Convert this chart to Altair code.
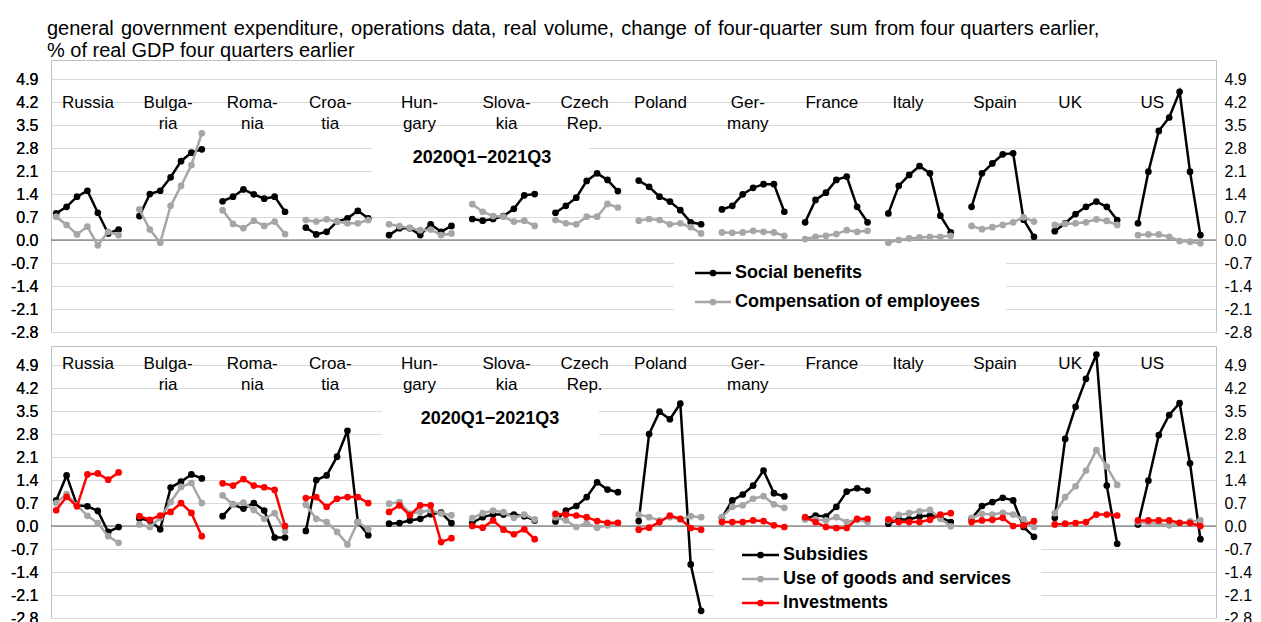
import altair as alt
import pandas as pd

# ---------------- data ----------------
COUNTRIES = ["Russia", "Bulgaria", "Romania", "Croatia", "Hungary", "Slovakia", "Czech Rep.",
             "Poland", "Germany", "France", "Italy", "Spain", "UK", "US"]
COUNTRY_LABELS = ["Russia", "Bulga-\nria", "Roma-\nnia", "Croa-\ntia", "Hun-\ngary", "Slova-\nkia",
                  "Czech\nRep.", "Poland", "Ger-\nmany", "France", "Italy", "Spain", "UK", "US"]
QUARTERS = ["2020Q1", "2020Q2", "2020Q3", "2020Q4", "2021Q1", "2021Q2", "2021Q3"]
Y_TICKS = [-2.8, -2.1, -1.4, -0.7, 0.0, 0.7, 1.4, 2.1, 2.8, 3.5, 4.2, 4.9]
PERIOD_LABEL = "2020Q1\u22122021Q3"
TITLE = ["general government expenditure, operations data, real volume, change of four-quarter sum from four quarters earlier,",
         "% of real GDP four quarters earlier"]

# top panel
SOCIAL_BENEFITS = [
    [0.81, 1.01, 1.32, 1.50, 0.83, 0.20, 0.32],
    [0.73, 1.40, 1.50, 1.91, 2.40, 2.66, 2.76],
    [1.18, 1.32, 1.54, 1.39, 1.26, 1.32, 0.86],
    [0.38, 0.17, 0.25, 0.56, 0.66, 0.89, 0.66],
    [0.15, 0.36, 0.36, 0.15, 0.48, 0.25, 0.43],
    [0.64, 0.59, 0.64, 0.73, 0.95, 1.36, 1.40],
    [0.83, 1.04, 1.29, 1.80, 2.03, 1.83, 1.49],
    [1.81, 1.62, 1.32, 1.17, 0.91, 0.54, 0.48],
    [0.93, 1.04, 1.39, 1.59, 1.70, 1.70, 0.86],
    [0.54, 1.22, 1.44, 1.83, 1.93, 1.01, 0.54],
    [0.81, 1.65, 1.98, 2.25, 2.03, 0.74, 0.23],
    [1.01, 2.03, 2.33, 2.61, 2.64, 0.62, 0.10],
    [0.27, 0.51, 0.79, 1.01, 1.17, 1.01, 0.61],
    [0.51, 2.08, 3.32, 3.73, 4.51, 2.08, 0.15],
]
COMPENSATION = [
    [0.71, 0.46, 0.17, 0.41, -0.16, 0.25, 0.15],
    [0.93, 0.32, -0.08, 1.04, 1.65, 2.28, 3.25],
    [0.91, 0.49, 0.36, 0.59, 0.43, 0.56, 0.18],
    [0.61, 0.56, 0.63, 0.56, 0.51, 0.51, 0.61],
    [0.48, 0.42, 0.37, 0.30, 0.32, 0.15, 0.20],
    [1.09, 0.86, 0.73, 0.71, 0.56, 0.59, 0.43],
    [0.61, 0.51, 0.48, 0.71, 0.71, 1.10, 0.99],
    [0.59, 0.64, 0.61, 0.48, 0.51, 0.39, 0.20],
    [0.23, 0.22, 0.23, 0.28, 0.25, 0.23, 0.13],
    [0.03, 0.10, 0.13, 0.18, 0.30, 0.25, 0.28],
    [-0.08, 0.00, 0.05, 0.08, 0.10, 0.10, 0.13],
    [0.43, 0.33, 0.39, 0.46, 0.54, 0.69, 0.56],
    [0.46, 0.49, 0.51, 0.54, 0.63, 0.58, 0.46],
    [0.15, 0.17, 0.17, 0.10, -0.03, -0.05, -0.10],
]
# bottom panel
SUBSIDIES = [
    [0.78, 1.54, 0.63, 0.60, 0.46, -0.18, -0.03],
    [0.23, 0.17, -0.10, 1.17, 1.35, 1.57, 1.45],
    [0.30, 0.65, 0.53, 0.70, 0.47, -0.35, -0.35],
    [-0.15, 1.40, 1.54, 2.11, 2.90, 0.12, -0.28],
    [0.07, 0.09, 0.17, 0.22, 0.36, 0.41, 0.09],
    [0.10, 0.27, 0.35, 0.35, 0.35, 0.30, 0.17],
    [0.14, 0.47, 0.61, 0.88, 1.33, 1.11, 1.03],
    [0.15, 2.80, 3.48, 3.25, 3.73, -1.17, -2.58],
    [0.25, 0.78, 0.96, 1.23, 1.69, 1.00, 0.90],
    [0.22, 0.32, 0.29, 0.58, 1.05, 1.15, 1.08],
    [0.07, 0.20, 0.20, 0.29, 0.32, 0.27, 0.12],
    [0.22, 0.61, 0.73, 0.86, 0.78, -0.03, -0.33],
    [0.25, 2.65, 3.63, 4.48, 5.22, 1.23, -0.54],
    [0.05, 1.38, 2.77, 3.38, 3.74, 1.91, -0.40],
]
USE_OF_GOODS = [
    [0.70, 0.97, 0.63, 0.31, 0.09, -0.31, -0.51],
    [0.05, -0.03, 0.25, 0.73, 1.19, 1.31, 0.70],
    [0.93, 0.65, 0.71, 0.49, 0.22, 0.39, -0.15],
    [0.65, 0.22, 0.12, -0.18, -0.56, 0.12, -0.10],
    [0.68, 0.73, 0.38, 0.43, 0.48, 0.38, 0.33],
    [0.24, 0.39, 0.47, 0.42, 0.25, 0.35, 0.20],
    [0.27, 0.17, -0.03, 0.09, -0.05, 0.02, 0.09],
    [0.35, 0.27, 0.17, 0.27, 0.20, 0.30, 0.27],
    [0.27, 0.58, 0.63, 0.83, 0.91, 0.66, 0.55],
    [0.20, 0.20, 0.17, 0.27, 0.12, 0.19, 0.12],
    [0.17, 0.34, 0.39, 0.45, 0.49, 0.22, -0.01],
    [0.25, 0.37, 0.35, 0.40, 0.35, 0.20, -0.03],
    [0.39, 0.88, 1.21, 1.69, 2.31, 1.81, 1.25],
    [0.12, 0.09, 0.07, 0.02, 0.09, 0.14, 0.17],
]
INVESTMENTS = [
    [0.48, 0.89, 0.60, 1.57, 1.60, 1.41, 1.63],
    [0.30, 0.19, 0.32, 0.43, 0.70, 0.40, -0.31],
    [1.30, 1.23, 1.43, 1.23, 1.18, 1.10, 0.00],
    [0.85, 0.88, 0.58, 0.83, 0.88, 0.88, 0.70],
    [0.43, 0.63, 0.33, 0.63, 0.63, -0.49, -0.37],
    [0.00, -0.05, 0.17, -0.11, -0.25, -0.10, -0.40],
    [0.37, 0.35, 0.32, 0.27, 0.15, 0.10, 0.10],
    [-0.11, -0.05, 0.12, 0.32, 0.22, -0.06, -0.11],
    [0.12, 0.12, 0.12, 0.17, 0.15, 0.02, -0.03],
    [0.27, 0.12, -0.03, -0.06, -0.06, 0.22, 0.22],
    [0.20, 0.12, 0.12, 0.12, 0.19, 0.35, 0.39],
    [0.12, 0.17, 0.19, 0.25, 0.00, 0.02, 0.15],
    [0.05, 0.07, 0.09, 0.12, 0.35, 0.35, 0.32],
    [0.17, 0.17, 0.17, 0.17, 0.10, 0.09, 0.00],
]

TOP_SERIES = [("Social benefits", SOCIAL_BENEFITS, "#000000"),
              ("Compensation of employees", COMPENSATION, "#A6A6A6")]
BOTTOM_SERIES = [("Subsidies", SUBSIDIES, "#000000"),
                 ("Use of goods and services", USE_OF_GOODS, "#A6A6A6"),
                 ("Investments", INVESTMENTS, "#FF0000")]

# ---------------- layout / style ----------------
FONT = "Liberation Sans"
W, H = 1165, 272
SLOT = 8  # category slots per country (7 quarters + 1 gap)
X_DOMAIN = [-0.5, len(COUNTRIES) * SLOT - 0.5]
Y_DOMAIN = [-2.8, 5.48]
LABEL_CENTER = [3.06, 2.76, 2.85, 2.35, 2.92, 3.29, 2.8, 2.1, 2.49, 2.57, 1.89, 2.26, 1.48, 1.37]

xscale = alt.Scale(domain=X_DOMAIN, nice=False, zero=False)
yscale = alt.Scale(domain=Y_DOMAIN, nice=False, zero=False)


def axis(orient, grid, pad):
    return alt.Axis(orient=orient, values=Y_TICKS, format=".1f", grid=grid, gridColor="#D9D9D9",
                    gridWidth=1, domain=False, ticks=False, labelFont=FONT, labelFontSize=16,
                    labelColor="#000000", labelPadding=pad, title=None,
                    labelExpr="replace(datum.label, '\u2212', '-')")


def long_df(series):
    rows = []
    for name, vals, _ in series:
        for ci, c in enumerate(COUNTRIES):
            for qi, q in enumerate(QUARTERS):
                rows.append({"series": name, "country": c, "quarter": q,
                             "x": ci * SLOT + qi, "value": vals[ci][qi]})
    return pd.DataFrame(rows)


def panel(series, label_top, line_h, period_box, period_xy, legend_box, legend_x, legend_rows):
    df = long_df(series)
    one = pd.DataFrame({"d": [0]})
    layers = []
    # white boxes behind annotation text
    for (x1, x2, y1, y2) in (period_box, legend_box):
        layers.append(alt.Chart(one).mark_rect(color="white").encode(
            x=alt.value(x1), x2=alt.value(x2), y=alt.value(y1), y2=alt.value(y2)))
    # zero line + right axis
    layers.append(alt.Chart(pd.DataFrame({"v": [0.0]})).mark_rule(color="#595959", strokeWidth=1).encode(
        y=alt.Y("v:Q", scale=yscale, axis=axis("right", False, 8))))
    # series
    for i, (name, _, color) in enumerate(series):
        sub = df[df.series == name]
        base = alt.Chart(sub).encode(
            x=alt.X("x:Q", scale=xscale, axis=None),
            y=alt.Y("value:Q", scale=yscale, axis=axis("left", True, 13) if i == 0 else None),
            detail="country:N")
        layers.append(base.mark_line(color=color, strokeWidth=2.5))
        layers.append(base.mark_circle(color=color, size=45, opacity=1))
    # country labels
    lab = pd.DataFrame({"label": COUNTRY_LABELS,
                        "x": [i * SLOT + LABEL_CENTER[i] for i in range(len(COUNTRIES))]})
    layers.append(alt.Chart(lab).mark_text(font=FONT, fontSize=17, align="center", baseline="top",
                                           lineBreak="\n", lineHeight=line_h, color="black").encode(
        x=alt.X("x:Q", scale=xscale, axis=None), y=alt.value(label_top), text="label:N"))
    # period label
    layers.append(alt.Chart(one).mark_text(font=FONT, fontSize=18, fontWeight="bold", align="center",
                                           baseline="middle", color="black").encode(
        x=alt.value(period_xy[0]), y=alt.value(period_xy[1]), text=alt.value(PERIOD_LABEL)))
    # legend
    for (name, _, color), ry in zip(series, legend_rows):
        x1, xc, x2, xt = legend_x
        layers.append(alt.Chart(one).mark_rule(color=color, strokeWidth=2.5).encode(
            x=alt.value(x1), x2=alt.value(x2), y=alt.value(ry)))
        layers.append(alt.Chart(one).mark_circle(color=color, size=45, opacity=1).encode(
            x=alt.value(xc), y=alt.value(ry)))
        layers.append(alt.Chart(one).mark_text(font=FONT, fontSize=18, fontWeight="bold", align="left",
                                               baseline="middle", color="black").encode(
            x=alt.value(xt), y=alt.value(ry), text=alt.value(name)))
    return alt.layer(*layers).resolve_axis(y="independent").properties(width=W, height=H)


top = panel(TOP_SERIES, label_top=35, line_h=21,
            period_box=(321, 538, 70, 130), period_xy=(431, 98),
            legend_box=(623, 955, 190, 271), legend_x=(644, 662, 680, 684), legend_rows=[213, 242])
bottom = panel(BOTTOM_SERIES, label_top=10, line_h=20.5,
               period_box=(331, 548, 51, 106), period_xy=(439, 73),
               legend_box=(663, 990, 198, 272), legend_x=(691, 709.5, 728, 732), legend_rows=[209, 233, 257])

words = TITLE[0].split(" ")
line1 = ""
for k, w in enumerate(words):
    if k == 0:
        line1 = w
    else:
        line1 += (" \u200a" if k <= 11 else " ") + w
title_lines = [line1, TITLE[1]]

chart = alt.vconcat(top, bottom, spacing=14, bounds="flush").properties(
    title=alt.TitleParams(title_lines, anchor="start", frame="group", font=FONT, fontSize=20,
                          fontWeight="normal", color="black", lineHeight=22, offset=-1, dx=-4),
    padding={"left": 1, "top": 10, "right": 0, "bottom": 0},
).configure_view(stroke="#BFBFBF", strokeWidth=1)

chart.save("out.html", embed_options={"renderer": "svg", "actions": False})
